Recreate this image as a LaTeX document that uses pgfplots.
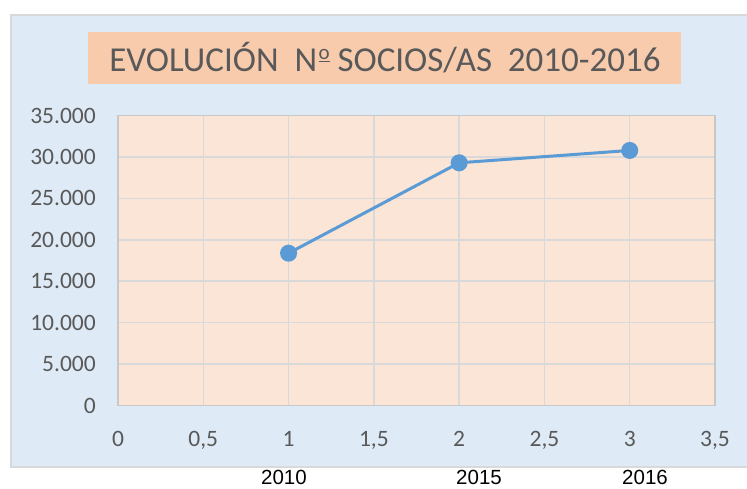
\documentclass[border=0pt]{standalone}
\usepackage{pgfplots}
\pgfplotsset{compat=1.18}
\usepackage{fontspec}
\setmainfont{Carlito}
\newfontfamily\carlito{Carlito}
\newfontfamily\libsans{Liberation Sans}
\definecolor{bgblue}{HTML}{DEEBF7}
\definecolor{plotfill}{HTML}{FBE5D6}
\definecolor{titlefill}{HTML}{F8CBAD}
\definecolor{gridg}{HTML}{D9D9D9}
\definecolor{axisg}{HTML}{C8C8C8}
\definecolor{lineblue}{HTML}{5B9BD5}
\definecolor{txt}{HTML}{595959}
\newcommand{\ordo}{\raisebox{0.34em}{\fontsize{21bp}{21bp}\selectfont\underline{o}}}
\begin{document}
\begin{tikzpicture}[x=1bp,y=1bp]
\useasboundingbox (0,0) rectangle (747,489);
\fill[white] (0,0) rectangle (747,489);
\draw[fill=bgblue, draw=gridg, line width=2bp] (11,22) rectangle (755,474);
\fill[titlefill] (88,405) rectangle (681,457);
\node[text=txt, font={\carlito\fontsize{35bp}{40bp}\selectfont}, inner sep=0] at (385,431) {EVOLUCIÓN\ \ N\kern0.04em\ordo\ SOCIOS/AS\ \ 2010-2016};
\begin{axis}[
  at={(118bp,83.5bp)}, anchor=south west,
  scale only axis, width=597bp, height=290bp,
  xmin=0, xmax=3.5, ymin=0, ymax=35000,
  xtick={0,0.5,1,1.5,2,2.5,3,3.5},
  ytick={0,5000,10000,15000,20000,25000,30000,35000},
  scaled y ticks=false, scaled x ticks=false,
  grid=major,
  grid style={gridg, line width=1.5bp},
  axis line style={axisg, line width=1.5bp},
  axis background/.style={fill=plotfill},
  tick style={draw=none},
  ticklabel style={font={\carlito\fontsize{23.5bp}{28bp}\selectfont}, text=txt, inner sep=0},
  yticklabel style={anchor=east, xshift=-22bp},
  xticklabel style={anchor=north, yshift=-26bp},
  /pgf/number format/assume math mode=true,
  /pgf/number format/use comma,
  /pgf/number format/1000 sep={.},
  clip=false,
]
\addplot[lineblue, line width=3bp, mark=*, mark size=7bp, mark options={fill=lineblue, draw=lineblue}]
  coordinates {(1,18380) (2,29290) (3,30780)};
\end{axis}
\node[font={\libsans\fontsize{20.5bp}{24bp}\selectfont}, inner sep=0] at (284,11.5) {2010};
\node[font={\libsans\fontsize{20.5bp}{24bp}\selectfont}, inner sep=0] at (479,11.5) {2015};
\node[font={\libsans\fontsize{20.5bp}{24bp}\selectfont}, inner sep=0] at (645,11.5) {2016};
\end{tikzpicture}
\end{document}
